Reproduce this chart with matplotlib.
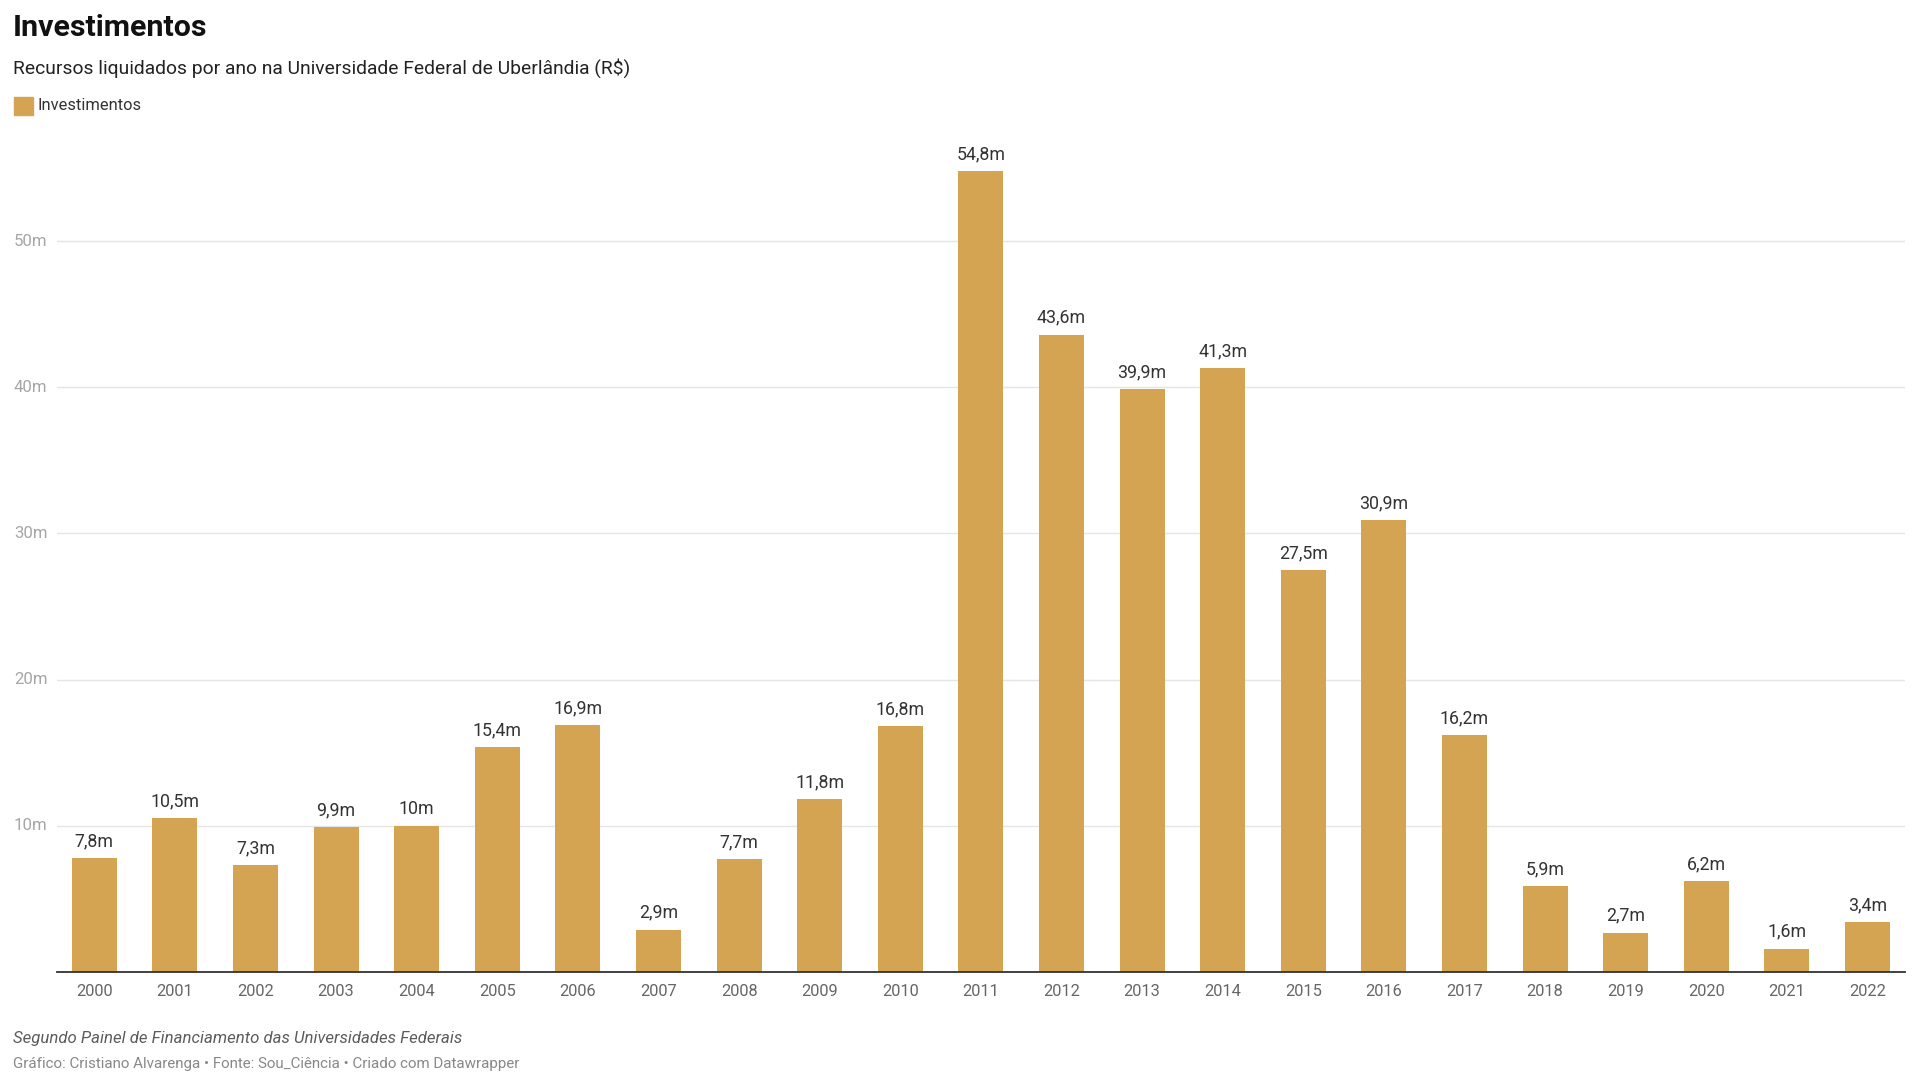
"""Investimentos UFU: bar chart of yearly liquidated resources (R$ millions)."""
import matplotlib
matplotlib.use('Agg')
import matplotlib.pyplot as plt
import matplotlib.transforms as mtransforms
from matplotlib.patches import Rectangle

plt.rcParams['font.family'] = ['Roboto', 'DejaVu Sans']

years = [str(y) for y in range(2000, 2023)]
values = [7.8, 10.5, 7.3, 9.9, 10, 15.4, 16.9, 2.9, 7.7, 11.8, 16.8, 54.8,
          43.6, 39.9, 41.3, 27.5, 30.9, 16.2, 5.9, 2.7, 6.2, 1.6, 3.4]
yticks = [10, 20, 30, 40, 50]

BAR = '#d4a452'
W, H = 1920, 1080


def fmt(v):
    s = f'{v:.1f}'.rstrip('0').rstrip('.')
    return s.replace('.', ',') + 'm'


fig = plt.figure(figsize=(W / 100, H / 100), dpi=100)
ax = fig.add_axes([56.7 / W, 108 / H, (1905.3 - 56.7) / W, (972 - 134.3) / H])

x = list(range(len(years)))
ax.bar(x, values, width=0.558, color=BAR, zorder=2)
ax.set_xlim(-0.467, len(years) - 1 + 0.47)
ax.set_ylim(0, 57.3)

for xi, v in zip(x, values):
    ax.annotate(fmt(v), (xi, v), xytext=(0, 8.5), textcoords='offset points',
                ha='center', va='baseline', fontsize=12.8, color='#333333')

# grid + y labels (left aligned at the figure edge)
ax.set_yticks(yticks)
ax.set_yticklabels([])
ax.tick_params(axis='y', length=0)
ax.grid(axis='y', color='#e5e5e5', linewidth=1, zorder=0)
trans = mtransforms.blended_transform_factory(fig.transFigure, ax.transData)
for t in yticks:
    ax.text(14 / W, t, f'{t}m', transform=trans, ha='left', va='center',
            fontsize=12.1, color='#a6a6a6')

ax.set_xticks(x)
ax.set_xticklabels(years, fontsize=11.8, color='#666666')
ax.tick_params(axis='x', length=0, pad=9)

for s in ['top', 'right', 'left']:
    ax.spines[s].set_visible(False)
ax.spines['bottom'].set_color('#333333')
ax.spines['bottom'].set_linewidth(1.3)
ax.spines['bottom'].set_zorder(3)

# header
fig.text(13 / W, 1 - 36 / H, 'Investimentos', fontsize=21.9, fontweight='bold',
         color='#111111', ha='left', va='baseline')
fig.text(13 / W, 1 - 74 / H,
         'Recursos liquidados por ano na Universidade Federal de Uberlândia (R$)',
         fontsize=13.9, color='#222222', ha='left', va='baseline')

# legend
fig.patches.append(Rectangle((14 / W, 1 - 115 / H), 18.5 / W, 18 / H,
                             transform=fig.transFigure, color=BAR))
fig.text(37.5 / W, 1 - 110 / H, 'Investimentos', fontsize=11.9, color='#333333',
         ha='left', va='baseline')

# footer
fig.text(13 / W, 1 - 1043 / H,
         'Segundo Painel de Financiamento das Universidades Federais',
         fontsize=12.05, style='italic', color='#5c5c5c', ha='left', va='baseline')
fig.text(13 / W, 1 - 1068 / H,
         'Gráfico: Cristiano Alvarenga • Fonte: Sou_Ciência • Criado com Datawrapper',
         fontsize=10.9, color='#888888', ha='left', va='baseline')

fig.savefig('out.png', dpi=100, facecolor='white')
